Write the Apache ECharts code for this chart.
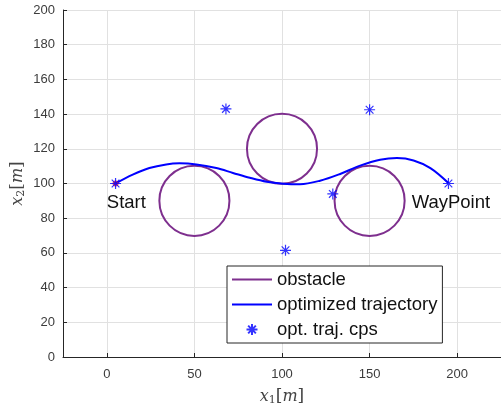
<!DOCTYPE html>
<html>
<head>
<meta charset="utf-8">
<script src="https://cdn.jsdelivr.net/npm/echarts@6/dist/echarts.min.js"></script>
<style>
  html, body { margin: 0; padding: 0; background: #fff; }
  #chart { width: 501px; height: 409px; }
</style>
</head>
<body>
<div id="chart"></div>
<script>
// Obstacles: circle centres and radii
const obstacleX = [50, 100, 150];
const obstacleY = [90, 120, 90];
const obstacleR = [20, 20, 20];

// Optimized trajectory samples
const trajX = [5, 14.8, 24.3, 33.9, 41.5, 51.1, 62.5, 72.0, 81.6, 91.2, 100.7, 110.3, 121.7, 133.2, 144.6, 156.0, 165.6, 175.1, 184.7, 195];
const trajY = [100, 105.1, 108.9, 111.0, 111.6, 111.0, 108.9, 106.1, 103.3, 101.0, 99.9, 99.6, 101.6, 105.5, 110.3, 113.7, 114.7, 113.3, 108.9, 100.3];

// Trajectory control points
const cpsX = [5, 68, 102, 129, 150, 195];
const cpsY = [100, 143, 61.5, 94, 142.5, 100];

// Start marker and annotations
const startPoint = [5, 100];
const labelText = ['Start', 'WayPoint'];
const labelX = [0, 174];
const labelY = [90, 90];

const seriesNames = ['obstacle', 'optimized trajectory', 'opt. traj. cps'];

const PURPLE = '#7E2F8E';
const BLUE = '#0000FF';
const AXIS = '#262626';
const TICK_TEXT = '#3c3c3c';
const ASTERISK = 'path://M5,0L5,10M0,5L10,5M1.5,1.5L8.5,8.5M8.5,1.5L1.5,8.5';
const LINE_ICON = 'path://M0,0L40,0L40,2L0,2Z';

const mathName = (sub) => ({
  formatter: '{i|x}{s|' + sub + '}{n|[}{i|m}{n|]}',
  rich: {
    i: { fontFamily: 'DejaVu Serif', fontStyle: 'italic', fontSize: 16, color: '#444' },
    s: { fontFamily: 'DejaVu Serif', fontSize: 11, color: '#444', verticalAlign: 'bottom', padding: [8, 0, 0, 0] },
    n: { fontFamily: 'DejaVu Serif', fontSize: 17, color: '#444' }
  }
});

const chart = echarts.init(document.getElementById('chart'), null, { renderer: 'canvas' });

const xName = mathName('1');
const yName = mathName('2');

chart.setOption({
  animation: false,
  backgroundColor: '#fff',
  grid: { left: 63, right: 0, top: 10, bottom: 52, outerBoundsMode: 'none', containLabel: false },
  xAxis: {
    type: 'value',
    min: -25,
    max: 225,
    splitNumber: 5,
    name: xName.formatter,
    nameLocation: 'middle',
    nameGap: 30,
    nameMoveOverlap: false,
    nameTextStyle: { rich: xName.rich },
    axisLine: { show: true, onZero: false, lineStyle: { color: AXIS, width: 1 } },
    axisTick: { show: true, inside: true, length: 4, lineStyle: { color: AXIS } },
    axisLabel: {
      margin: 11,
      fontFamily: 'Liberation Sans',
      fontSize: 13,
      color: TICK_TEXT,
      showMinLabel: false,
      showMaxLabel: false,
      formatter: v => (v % 50 === 0 ? String(v) : '')
    },
    splitLine: { show: true, lineStyle: { color: '#e1e1e1', width: 1 } }
  },
  yAxis: {
    type: 'value',
    min: 0,
    max: 200,
    interval: 20,
    name: yName.formatter,
    nameLocation: 'middle',
    nameGap: 36,
    nameMoveOverlap: false,
    nameTextStyle: { rich: yName.rich },
    axisLine: { show: true, onZero: false, lineStyle: { color: AXIS, width: 1 } },
    axisTick: { show: true, inside: true, length: 4, lineStyle: { color: AXIS } },
    axisLabel: { margin: 8, fontFamily: 'Liberation Sans', fontSize: 13, color: TICK_TEXT },
    splitLine: { show: true, lineStyle: { color: '#e1e1e1', width: 1 } }
  },
  legend: {
    orient: 'vertical',
    left: 227,
    top: 266,
    padding: [4, 5, 4, 5],
    itemWidth: 40,
    itemHeight: 11,
    itemGap: 6,
    borderColor: AXIS,
    borderWidth: 1,
    borderRadius: 0,
    backgroundColor: '#fff',
    selectedMode: false,
    textStyle: { fontFamily: 'Liberation Sans', fontSize: 18.5, color: '#111' },
    data: [
      { name: seriesNames[0], icon: LINE_ICON },
      { name: seriesNames[1], icon: LINE_ICON },
      { name: seriesNames[2], icon: ASTERISK }
    ]
  },
  series: [
    {
      name: seriesNames[0],
      type: 'custom',
      itemStyle: { color: PURPLE },
      data: obstacleX.map((x, i) => [x, obstacleY[i], obstacleR[i]]),
      renderItem: (params, api) => {
        const c = api.coord([api.value(0), api.value(1)]);
        const r = api.size([api.value(2), 0])[0];
        return {
          type: 'circle',
          shape: { cx: c[0], cy: c[1], r: r },
          style: { fill: 'none', stroke: PURPLE, lineWidth: 2 }
        };
      },
      z: 2
    },
    {
      name: seriesNames[1],
      type: 'line',
      data: trajX.map((x, i) => [x, trajY[i]]),
      smooth: 0.35,
      showSymbol: false,
      itemStyle: { color: BLUE },
      lineStyle: { color: BLUE, width: 2 },
      z: 3
    },
    {
      name: 'start',
      type: 'scatter',
      data: [startPoint],
      symbol: 'circle',
      symbolSize: 6,
      itemStyle: { color: '#ff2020' },
      z: 4
    },
    {
      name: seriesNames[2],
      type: 'scatter',
      data: cpsX.map((x, i) => [x, cpsY[i]]),
      symbol: ASTERISK,
      symbolSize: 11,
      itemStyle: { color: BLUE, borderColor: BLUE, borderWidth: 1.2 },
      z: 5
    },
    {
      name: 'annotations',
      type: 'custom',
      data: labelX.map((x, i) => [x, labelY[i], labelText[i]]),
      renderItem: (params, api) => {
        const c = api.coord([api.value(0), api.value(1)]);
        return {
          type: 'text',
          x: c[0],
          y: c[1] + 2,
          style: {
            text: labelText[params.dataIndex],
            font: '18.5px "Liberation Sans"',
            fill: '#111',
            align: 'left',
            verticalAlign: 'middle'
          }
        };
      },
      z: 6
    }
  ]
});
</script>
</body>
</html>
